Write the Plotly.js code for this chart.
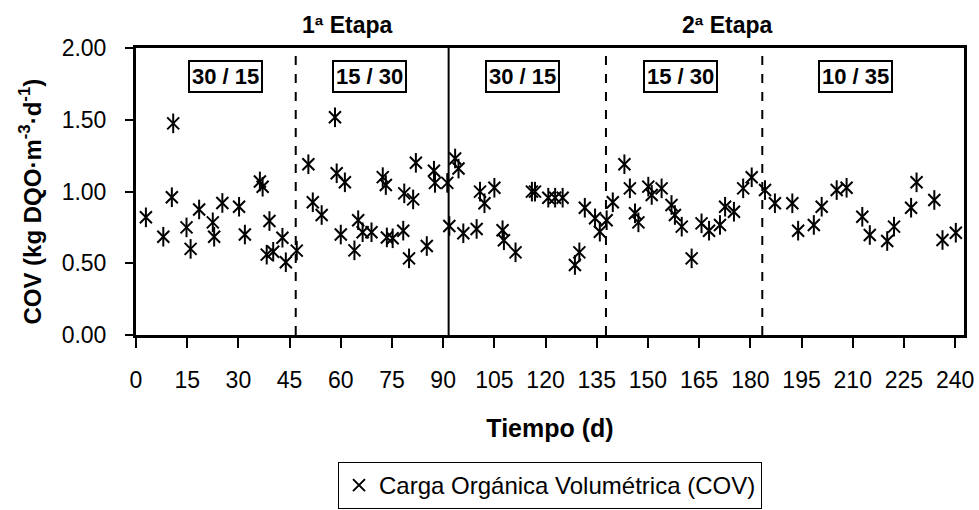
<!DOCTYPE html>
<html>
<head>
<meta charset="utf-8">
<script src="https://cdn.plot.ly/plotly-3.0.1.min.js"></script>
<style>html,body{margin:0;padding:0;background:#fff;}</style>
</head>
<body>
<div id="chart" style="width:979px;height:510px;"></div>
<script>
// Time (days)
const tiempo = [2.9, 8.0, 10.5, 10.9, 14.8, 16.0, 18.5, 22.5, 22.9, 25.3, 30.2, 31.9, 36.3, 37.1, 38.3, 39.1, 40.2, 42.9, 43.9, 47.1,
  50.5, 51.8, 54.4, 58.3, 58.8, 60.0, 61.2, 64.0, 65.1, 66.4, 69.0, 72.3, 73.2, 73.5, 75.2, 78.3, 78.6, 80.0, 81.2, 82.0, 85.2, 87.3, 87.6,
  91.2, 91.8, 93.5, 94.5, 95.9, 99.8, 100.8, 102.1, 105.0, 107.4, 107.8, 111.2, 116.0, 116.9, 120.8, 122.8, 125.0, 128.6, 129.9, 131.5, 134.5, 135.9,
  137.9, 139.7, 143.1, 144.7, 146.2, 147.2, 150.1, 151.1, 154.0, 156.9, 157.9, 159.9, 162.8, 165.7, 167.9, 171.1, 172.6, 175.2, 177.9, 180.4,
  184.3, 187.2, 192.3, 194.0, 198.6, 200.9, 205.3, 208.2, 212.8, 215.0, 220.1, 222.1, 227.1, 228.7, 233.9, 236.3, 240.2, 242.7];
// COV (kg DQO·m-3·d-1)
const cov = [0.82, 0.685, 0.96, 1.475, 0.75, 0.60, 0.875, 0.785, 0.685, 0.92, 0.894, 0.70, 1.07, 1.033, 0.56, 0.794, 0.58, 0.678, 0.507, 0.588,
  1.19, 0.925, 0.836, 1.517, 1.127, 0.70, 1.064, 0.59, 0.80, 0.716, 0.716, 1.10, 1.045, 0.68, 0.674, 0.727, 0.987, 0.534, 0.945, 1.20, 0.62, 1.145, 1.06,
  1.06, 0.76, 1.23, 1.16, 0.709, 0.739, 0.999, 0.918, 1.026, 0.73, 0.66, 0.576, 0.999, 0.999, 0.957, 0.957, 0.957, 0.488, 0.576, 0.887, 0.813, 0.72,
  0.80, 0.925, 1.19, 1.022, 0.848, 0.785, 1.034, 0.976, 1.022, 0.906, 0.836, 0.755, 0.534, 0.778, 0.727, 0.767, 0.894, 0.859, 1.022, 1.099,
  1.01, 0.918, 0.918, 0.727, 0.767, 0.894, 1.01, 1.026, 0.824, 0.697, 0.655, 0.755, 0.887, 1.064, 0.941, 0.662, 0.713, 0.76];

const xTicks = [0, 15, 30, 45, 60, 75, 90, 105, 120, 135, 150, 165, 180, 195, 210, 225, 240];
const yTicks = [0, 0.5, 1.0, 1.5, 2.0];

// Stage boundaries (days) and styles
const dividers = [46.8, 91.6, 137.7, 183.5];
const dividerDash = ['dash', 'solid', 'dash', 'dash'];

// Phase ratio labels
const ratioLabels = ['30 / 15', '15 / 30', '30 / 15', '15 / 30', '10 / 35'];
const ratioX = [26.1, 68.3, 113.2, 159.4, 210.8];
const ratioY = 1.80;

const stageLabels = ['1ª Etapa', '2ª Etapa'];
const stageX = [62.1, 173.4];

const yTitle = '<b>COV (kg DQO·m<sup>-3</sup>·d<sup>-1</sup>)</b>';
const xTitle = '<b>Tiempo (d)</b>';

const FN = '"Liberation Sans", Arial, sans-serif';

const traces = [
  {x: tiempo, y: cov, type: 'scatter', mode: 'markers', name: 'Carga Orgánica Volumétrica (COV)',
   marker: {symbol: 'x-thin-open', size: 12, color: '#000', line: {color: '#000', width: 2}}, cliponaxis: false},
  {x: tiempo, y: cov, type: 'scatter', mode: 'markers', showlegend: false, hoverinfo: 'skip',
   marker: {symbol: 'line-ns-open', size: 14, color: '#000', line: {color: '#000', width: 2}}, cliponaxis: false}
];

const shapes = dividers.map((d, i) => ({type: 'line', xref: 'x', yref: 'paper', x0: d, x1: d, y0: 0, y1: 1,
  line: {color: '#000', width: 2, dash: dividerDash[i]}}));

const annotations = ratioLabels.map((t, i) => ({x: ratioX[i], y: ratioY, xref: 'x', yref: 'y', text: '<b>' + t + '</b>',
  showarrow: false, bordercolor: '#000', borderwidth: 2, borderpad: 2, bgcolor: '#fff',
  font: {family: FN, size: 22, color: '#000'}}));
stageLabels.forEach((t, i) => annotations.push({x: stageX[i], y: 1, xref: 'x', yref: 'paper', yanchor: 'bottom', yshift: 8,
  text: '<b>' + t + '</b>', showarrow: false, font: {family: FN, size: 23, color: '#000'}}));
// y-axis title placed as rotated annotation (centred slightly below the plot middle, as in the reference)
annotations.push({x: -0.128, y: 0.465, xref: 'paper', yref: 'paper', xanchor: 'center', yanchor: 'middle', textangle: -90,
  text: yTitle, showarrow: false, font: {family: FN, size: 24, color: '#000'}});

const layout = {
  width: 979, height: 510, autosize: false,
  margin: {l: 136, r: 15, t: 48, b: 175, autoexpand: false},
  paper_bgcolor: '#fff', plot_bgcolor: '#fff',
  font: {family: FN, color: '#000'},
  showlegend: true,
  legend: {x: 0.5, xanchor: 'center', y: -0.4425, yanchor: 'top', bordercolor: '#000', borderwidth: 1,
    font: {family: FN, size: 24, color: '#000'}, bgcolor: '#fff', itemwidth: 30},
  xaxis: {range: [0, 242.6], tickmode: 'array', tickvals: xTicks, ticktext: xTicks.map(String),
    ticks: 'outside', ticklen: 10, tickwidth: 2, tickcolor: '#000', showline: true, linewidth: 3, linecolor: '#000',
    mirror: true, showgrid: false, zeroline: false, tickfont: {family: FN, size: 23, color: '#000'}, ticklabelstandoff: 12,
    title: {text: xTitle, font: {family: FN, size: 25, color: '#000'}, standoff: 28}, automargin: false},
  yaxis: {range: [0, 2], tickmode: 'array', tickvals: yTicks, ticktext: yTicks.map(v => v.toFixed(2)),
    ticks: 'outside', ticklen: 8, tickwidth: 2, tickcolor: '#000', showline: true, linewidth: 3, linecolor: '#000',
    mirror: true, showgrid: false, zeroline: false, tickfont: {family: FN, size: 23, color: '#000'}, ticklabelstandoff: 14,
    automargin: false},
  shapes: shapes,
  annotations: annotations
};

Plotly.newPlot('chart', traces, layout, {displayModeBar: false, staticPlot: true});
</script>
</body>
</html>
